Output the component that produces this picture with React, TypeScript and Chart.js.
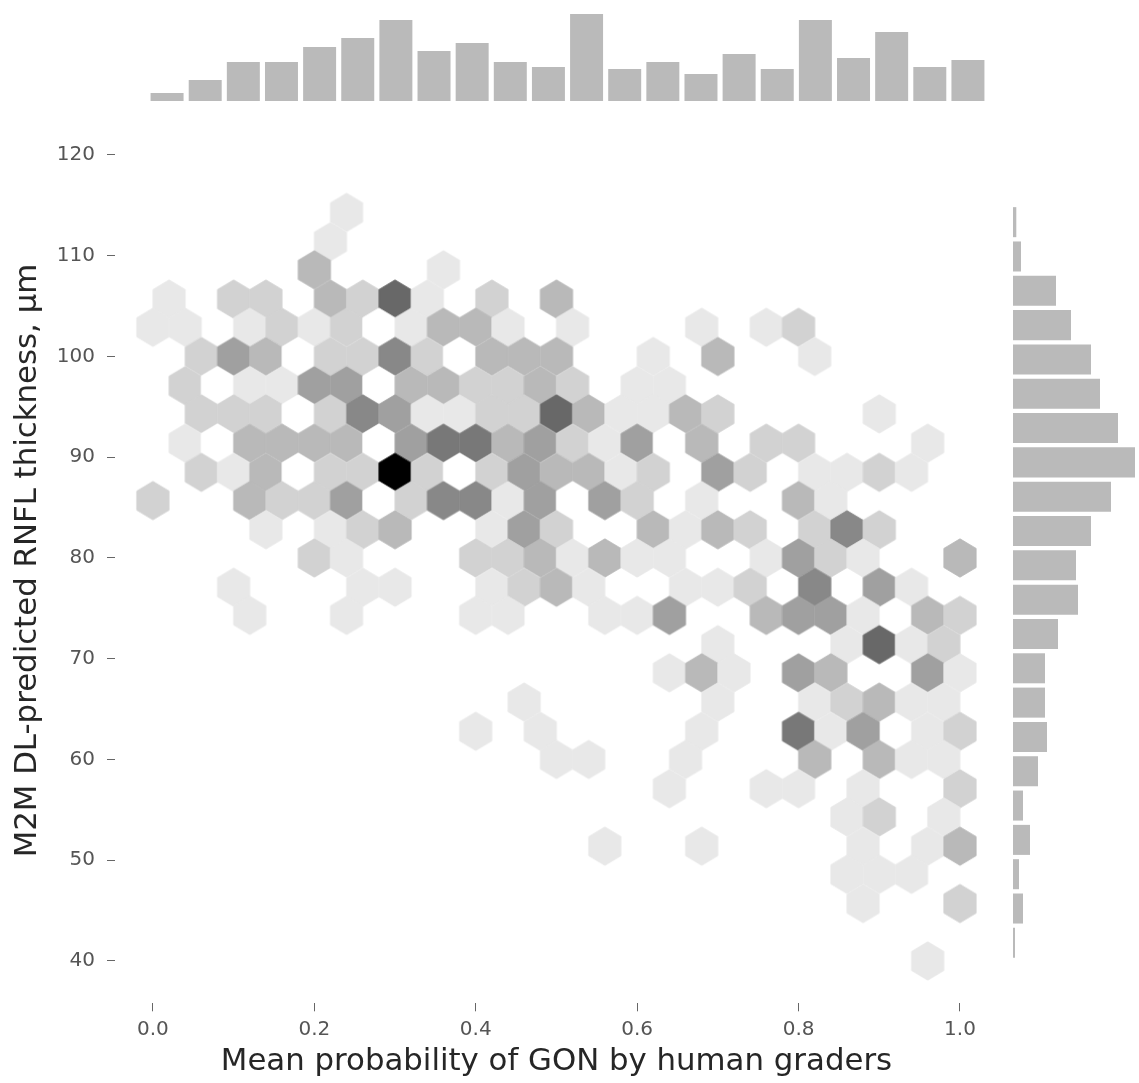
import React, { useEffect, useRef } from "react";
import { Chart, registerables } from "chart.js";

Chart.register(...registerables);

// Hexbin rows: centre y (µm), centre x (probability), and count per cell
const row114 = { y: 114.3, x: [0.24], n: [2] };
const row111 = { y: 111.4, x: [0.22], n: [2] };
const row108 = { y: 108.6, x: [0.2, 0.36], n: [4, 2] };
const row105 = { y: 105.7, x: [0.02, 0.1, 0.14, 0.22, 0.26, 0.3, 0.34, 0.42, 0.5], n: [2, 3, 3, 4, 3, 8, 2, 3, 4] };
const row102 = { y: 102.9, x: [0, 0.04, 0.12, 0.16, 0.2, 0.24, 0.28, 0.32, 0.36, 0.4, 0.44, 0.52, 0.68, 0.76, 0.8], n: [2, 2, 2, 3, 2, 3, 1, 2, 4, 4, 2, 2, 2, 2, 3] };
const row100 = { y: 100.0, x: [0.06, 0.1, 0.14, 0.18, 0.22, 0.26, 0.3, 0.34, 0.38, 0.42, 0.46, 0.5, 0.62, 0.7, 0.82], n: [3, 5, 4, 1, 3, 3, 6, 3, 1, 4, 4, 4, 2, 4, 2] };
const row97 = { y: 97.1, x: [0.04, 0.08, 0.12, 0.16, 0.2, 0.24, 0.28, 0.32, 0.36, 0.4, 0.44, 0.48, 0.52, 0.6, 0.64], n: [3, 1, 2, 2, 5, 5, 1, 4, 4, 3, 3, 4, 3, 2, 2] };
const row94 = { y: 94.3, x: [0.06, 0.1, 0.14, 0.18, 0.22, 0.26, 0.3, 0.34, 0.38, 0.42, 0.46, 0.5, 0.54, 0.58, 0.62, 0.66, 0.7, 0.9], n: [3, 3, 3, 1, 3, 6, 5, 2, 2, 3, 3, 8, 4, 2, 2, 4, 3, 2] };
const row91 = { y: 91.4, x: [0.04, 0.08, 0.12, 0.16, 0.2, 0.24, 0.28, 0.32, 0.36, 0.4, 0.44, 0.48, 0.52, 0.56, 0.6, 0.64, 0.68, 0.76, 0.8, 0.96], n: [2, 1, 4, 4, 4, 4, 1, 5, 7, 7, 4, 5, 3, 2, 5, 1, 4, 3, 3, 2] };
const row88 = { y: 88.5, x: [0.06, 0.1, 0.14, 0.18, 0.22, 0.26, 0.3, 0.34, 0.38, 0.42, 0.46, 0.5, 0.54, 0.58, 0.62, 0.7, 0.74, 0.82, 0.86, 0.9, 0.94], n: [3, 2, 4, 1, 3, 3, 12, 3, 1, 3, 5, 4, 4, 2, 3, 5, 3, 2, 2, 3, 2] };
const row85 = { y: 85.7, x: [0, 0.12, 0.16, 0.2, 0.24, 0.28, 0.32, 0.36, 0.4, 0.44, 0.48, 0.52, 0.56, 0.6, 0.68, 0.8, 0.84], n: [3, 4, 3, 3, 5, 1, 3, 6, 6, 2, 5, 1, 5, 3, 2, 4, 2] };
const row82 = { y: 82.8, x: [0.14, 0.22, 0.26, 0.3, 0.42, 0.46, 0.5, 0.62, 0.66, 0.7, 0.74, 0.82, 0.86, 0.9], n: [2, 2, 3, 4, 2, 5, 3, 4, 2, 4, 3, 3, 6, 3] };
const row80 = { y: 80.0, x: [0.2, 0.24, 0.4, 0.44, 0.48, 0.52, 0.56, 0.6, 0.64, 0.76, 0.8, 0.84, 0.88, 1.0], n: [3, 2, 3, 3, 4, 2, 4, 2, 2, 2, 5, 3, 2, 4] };
const row77 = { y: 77.1, x: [0.1, 0.26, 0.3, 0.42, 0.46, 0.5, 0.54, 0.66, 0.7, 0.74, 0.82, 0.9, 0.94], n: [2, 2, 2, 2, 3, 4, 2, 2, 2, 3, 6, 5, 2] };
const row74 = { y: 74.3, x: [0.12, 0.24, 0.4, 0.44, 0.56, 0.6, 0.64, 0.76, 0.8, 0.84, 0.88, 0.96, 1.0], n: [2, 2, 2, 2, 2, 2, 5, 4, 5, 5, 2, 4, 3] };
const row71 = { y: 71.4, x: [0.7, 0.86, 0.9, 0.94, 0.98], n: [2, 2, 8, 2, 3] };
const row68 = { y: 68.6, x: [0.64, 0.68, 0.72, 0.8, 0.84, 0.96, 1.0], n: [2, 4, 2, 5, 4, 5, 2] };
const row65 = { y: 65.7, x: [0.46, 0.7, 0.82, 0.86, 0.9, 0.94, 0.98], n: [2, 2, 2, 3, 4, 2, 2] };
const row62 = { y: 62.8, x: [0.4, 0.48, 0.68, 0.8, 0.84, 0.88, 0.96, 1.0], n: [2, 2, 2, 7, 2, 5, 2, 3] };
const row60 = { y: 60.0, x: [0.5, 0.54, 0.66, 0.82, 0.9, 0.94, 0.98], n: [2, 2, 2, 4, 4, 2, 2] };
const row57 = { y: 57.1, x: [0.64, 0.76, 0.8, 0.88, 1.0], n: [2, 2, 2, 2, 3] };
const row54 = { y: 54.3, x: [0.86, 0.9, 0.98], n: [2, 3, 2] };
const row51 = { y: 51.4, x: [0.56, 0.68, 0.88, 0.96, 1.0], n: [2, 2, 2, 2, 4] };
const row48 = { y: 48.6, x: [0.86, 0.9, 0.94], n: [2, 2, 2] };
const row45 = { y: 45.7, x: [0.88, 1.0], n: [2, 3] };
const row40 = { y: 40.0, x: [0.96], n: [2] };
const hexRows = [row114, row111, row108, row105, row102, row100, row97, row94, row91, row88, row85, row82, row80, row77, row74, row71, row68, row65, row62, row60, row57, row54, row51, row48, row45, row40];

// Marginal histograms (left to right, top to bottom)
const topBins = ["b1", "b2", "b3", "b4", "b5", "b6", "b7", "b8", "b9", "b10", "b11", "b12", "b13", "b14", "b15", "b16", "b17", "b18", "b19", "b20", "b21", "b22"];
const topHeights = [8, 21, 39, 39, 54, 63, 81, 50, 58, 39, 34, 87, 32, 39, 27, 47, 32, 81, 43, 69, 34, 41];
const rightBins = ["r1", "r2", "r3", "r4", "r5", "r6", "r7", "r8", "r9", "r10", "r11", "r12", "r13", "r14", "r15", "r16", "r17", "r18", "r19", "r20", "r21", "r22"];
const rightLengths = [3.3, 8, 43, 58, 78, 87, 105, 122, 98, 78, 63, 65, 45, 32, 32, 34, 25, 10, 17, 6, 10, 2];

const xLabel = "Mean probability of GON by human graders";
const yLabel = "M2M DL-predicted RNFL thickness, μm";
const FONT = "'DejaVu Sans'";
const BAR = "#bababa";
// grey shade for each count seen in the picture
const shadeByCount: Record<number, number> = { 1: 255, 2: 232, 3: 210, 4: 185, 5: 160, 6: 136, 7: 120, 8: 104, 12: 0 };

const hexCache = new Map<number, HTMLCanvasElement>();
function hexSprite(count: number): HTMLCanvasElement {
  const hit = hexCache.get(count);
  if (hit) return hit;
  const c = document.createElement("canvas");
  c.width = 36;
  c.height = 42;
  const g = c.getContext("2d")!;
  const gray = shadeByCount[count];
  const col = `rgb(${gray},${gray},${gray})`;
  g.fillStyle = col;
  g.strokeStyle = col;
  g.lineWidth = 0.8;
  g.lineJoin = "round";
  g.beginPath();
  const r = 19.2;
  const w = 16.15;
  g.moveTo(18, 21 - r);
  g.lineTo(18 + w, 21 - r / 2);
  g.lineTo(18 + w, 21 + r / 2);
  g.lineTo(18, 21 + r);
  g.lineTo(18 - w, 21 + r / 2);
  g.lineTo(18 - w, 21 - r / 2);
  g.closePath();
  g.fill();
  g.stroke();
  hexCache.set(count, c);
  return c;
}

const hexPoints = hexRows.flatMap((row) => row.x.map((x, i) => ({ x, y: row.y, n: row.n[i] })));

// Centres the y title on the picture's own position, a little above the axis middle.
const shiftYTitle = {
  id: "shiftYTitle",
  afterLayout(chart: any) {
    const s = chart.scales.y;
    if (s.__shifted) return;
    s.__shifted = true;
    const orig = s.drawTitle;
    s.drawTitle = function () {
      chart.ctx.save();
      chart.ctx.translate(0, -8.5);
      orig.call(s);
      chart.ctx.restore();
    };
  },
};

export default function App() {
  const mainRef = useRef<HTMLCanvasElement>(null);
  const topRef = useRef<HTMLCanvasElement>(null);
  const rightRef = useRef<HTMLCanvasElement>(null);

  useEffect(() => {
    const main = new Chart(mainRef.current!, {
      type: "scatter",
      plugins: [shiftYTitle],
      data: {
        datasets: [
          {
            data: hexPoints,
            pointRadius: 16,
            pointHoverRadius: 16,
            pointStyle: (ctx: any) => hexSprite((ctx.raw && ctx.raw.n) || 1),
            clip: false,
          } as any,
        ],
      },
      options: {
        responsive: false,
        animation: false,
        layout: { padding: { left: 0, top: 134.85, right: 141.1, bottom: 0 } },
        plugins: { legend: { display: false }, tooltip: { enabled: false } },
        scales: {
          x: {
            type: "linear",
            min: -0.047,
            max: 1.047,
            afterFit: (a: any) => { a.height = 79.7; },
            border: { display: false },
            grid: { drawOnChartArea: false, color: "#666", tickLength: 8, tickWidth: 1 },
            ticks: {
              stepSize: 0.2,
              includeBounds: false,
              maxRotation: 0,
              padding: 6,
              color: "#555",
              font: { family: FONT, size: 20 },
              callback: (v: any) => Number(v).toFixed(1),
            },
            title: { display: true, text: xLabel, color: "#262626", font: { family: FONT, size: 30.8 }, padding: { top: 0, bottom: 3 } },
          },
          y: {
            type: "linear",
            min: 35.8,
            max: 122,
            afterFit: (a: any) => { a.width = 115; },
            border: { display: false },
            grid: { drawOnChartArea: false, color: "#666", tickLength: 8, tickWidth: 1 },
            ticks: {
              stepSize: 10,
              includeBounds: false,
              padding: 12,
              color: "#555",
              font: { family: FONT, size: 20 },
            },
            title: { display: true, text: yLabel, color: "#262626", font: { family: FONT, size: 30.8 }, padding: { top: 10, bottom: 0 } },
          },
        },
      },
    } as any);

    const top = new Chart(topRef.current!, {
      type: "bar",
      data: {
        labels: topBins,
        datasets: [{ data: topHeights, backgroundColor: BAR, barPercentage: 0.865, categoryPercentage: 1 }],
      },
      options: {
        responsive: false,
        animation: false,
        plugins: { legend: { display: false }, tooltip: { enabled: false } },
        scales: {
          x: { display: false },
          y: { display: false, min: 0, max: 88 },
        },
      },
    } as any);

    const right = new Chart(rightRef.current!, {
      type: "bar",
      data: {
        labels: rightBins,
        datasets: [{ data: rightLengths, backgroundColor: BAR, barPercentage: 0.875, categoryPercentage: 1 }],
      },
      options: {
        indexAxis: "y",
        responsive: false,
        animation: false,
        plugins: { legend: { display: false }, tooltip: { enabled: false } },
        scales: {
          y: { display: false },
          x: { display: false, min: 0, max: 126 },
        },
      },
    } as any);

    return () => {
      main.destroy();
      top.destroy();
      right.destroy();
    };
  }, []);

  const abs = (left: number, top: number): React.CSSProperties => ({ position: "absolute", left, top, display: "block" });

  return (
    <div style={{ position: "absolute", left: 0, top: 0, width: 1139, height: 1083, background: "#fff", overflow: "hidden" }}>
      <canvas ref={mainRef} width={1139} height={1083} style={abs(0, 0)} />
      <canvas ref={topRef} width={839} height={88} style={abs(148, 13)} />
      <canvas ref={rightRef} width={126} height={755} style={abs(1013, 205)} />
    </div>
  );
}
